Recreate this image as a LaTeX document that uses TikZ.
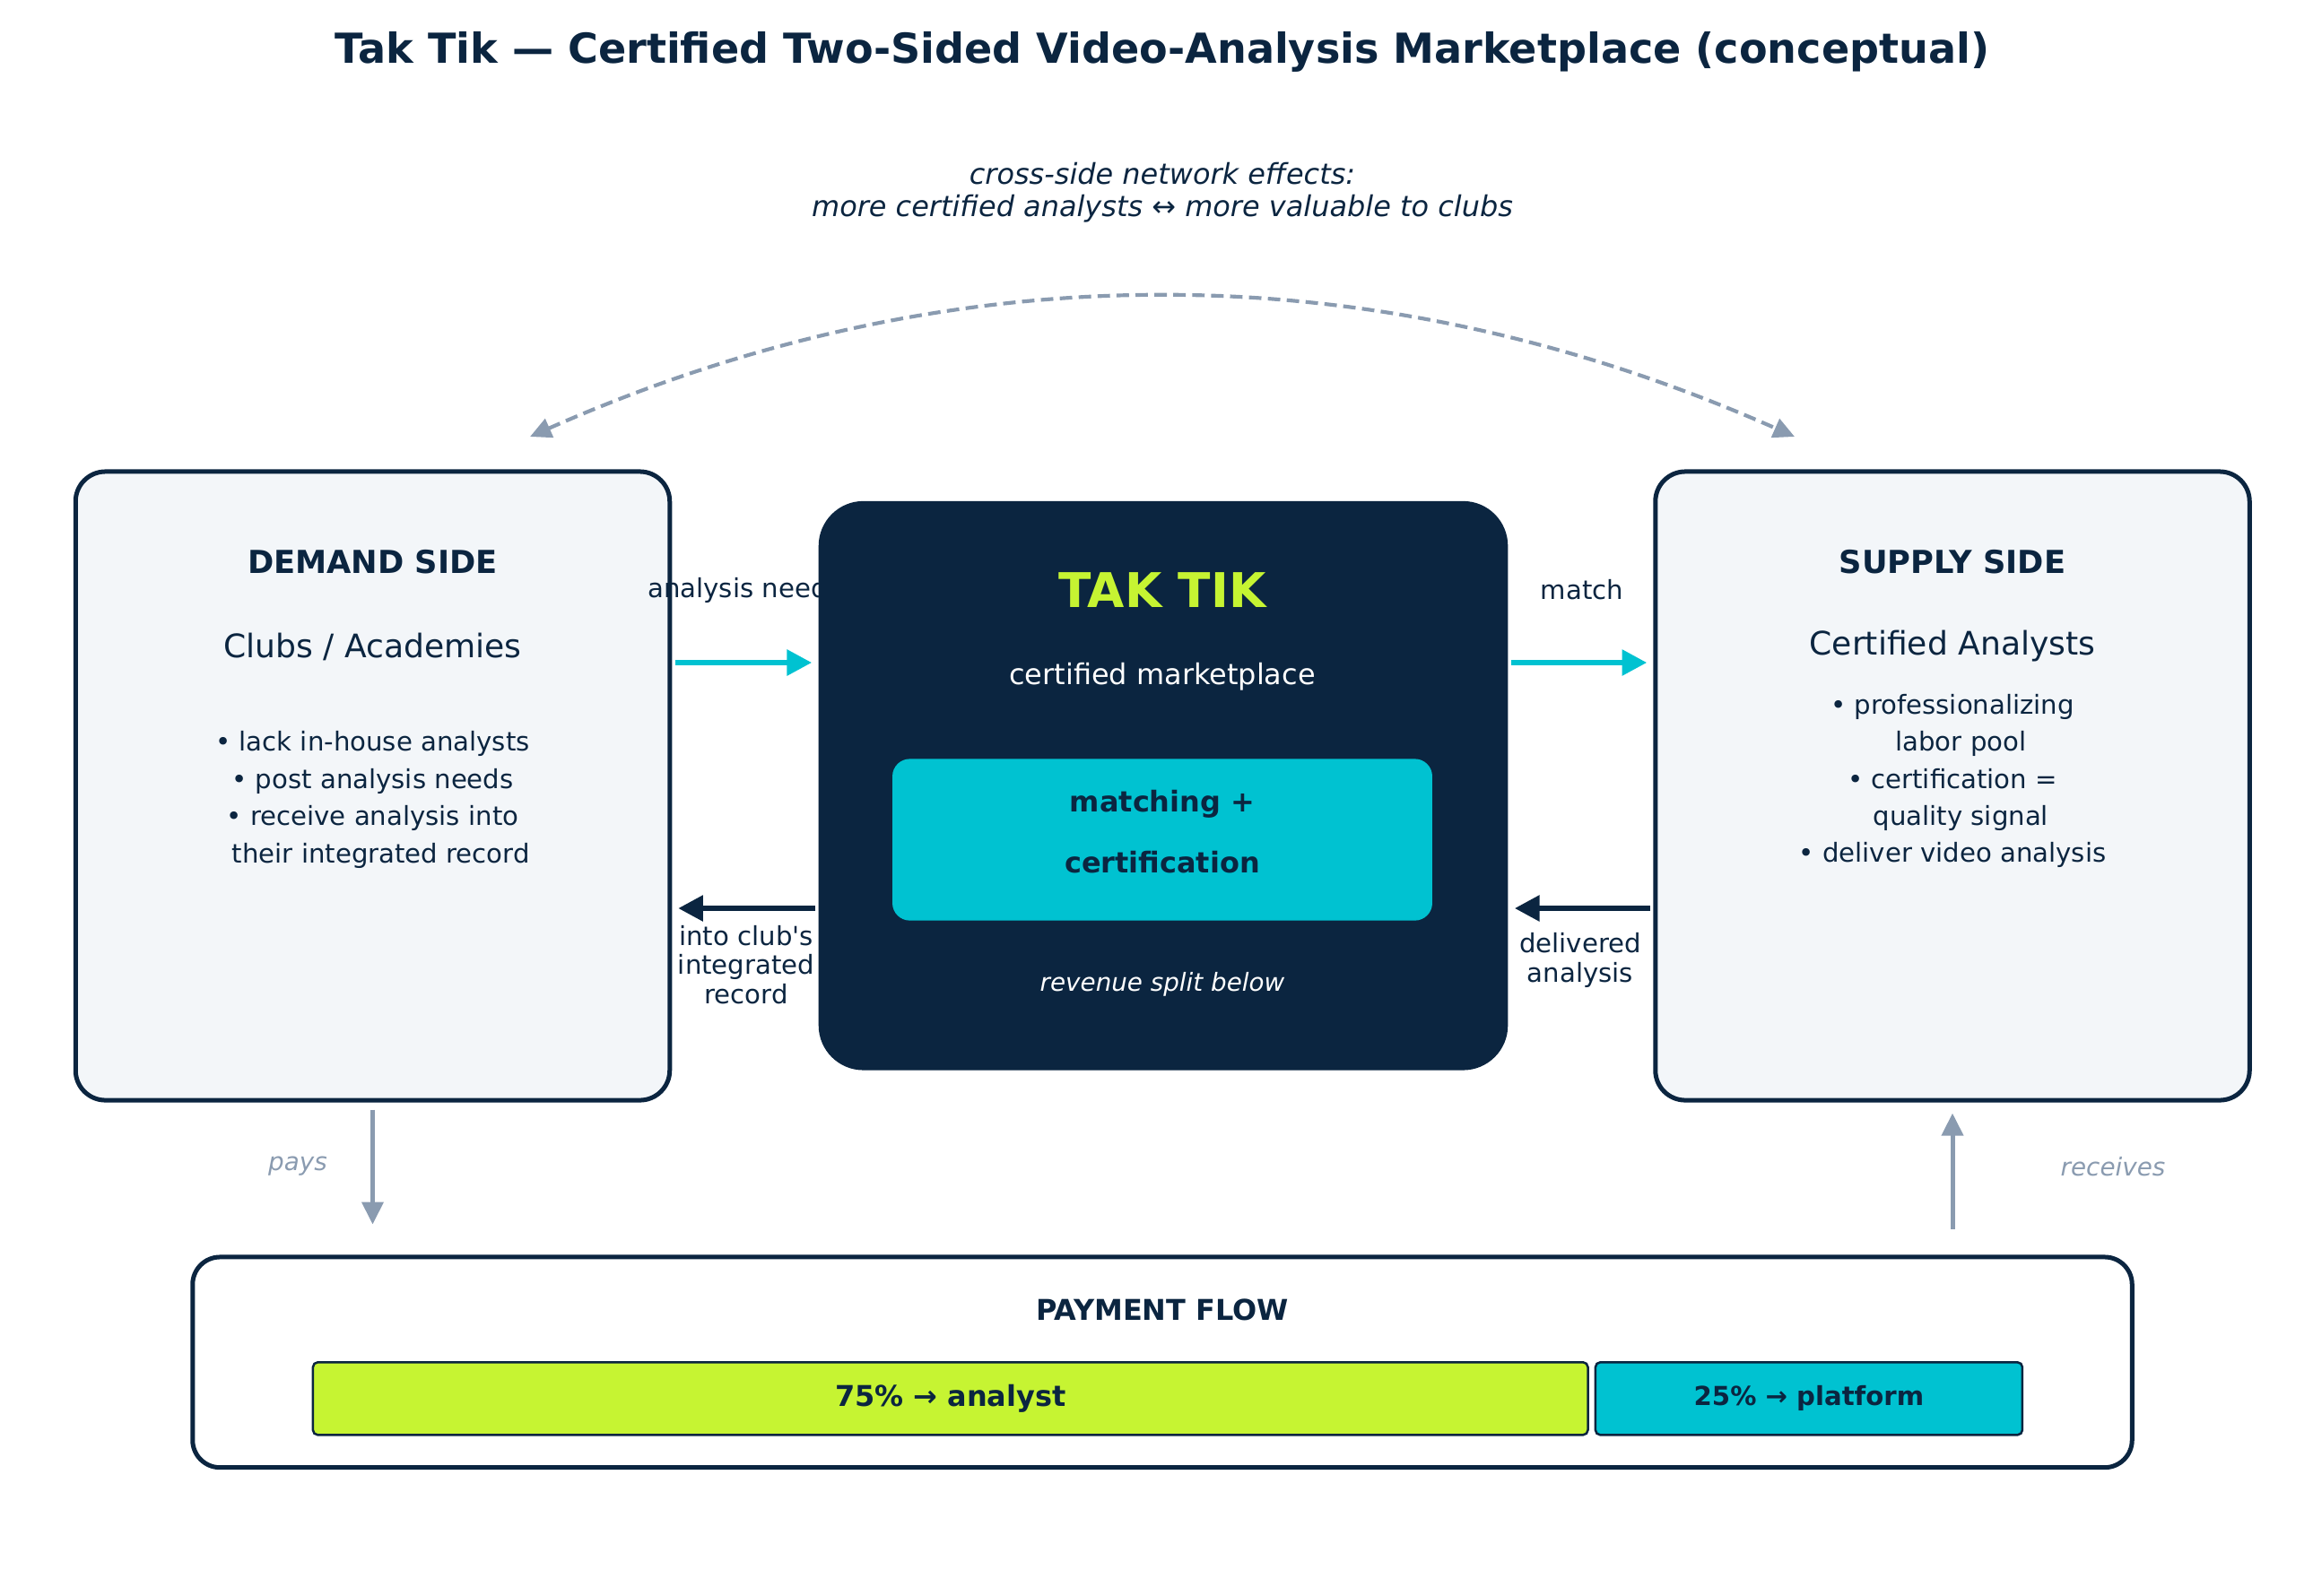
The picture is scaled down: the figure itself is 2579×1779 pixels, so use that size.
\documentclass[tikz,border=0pt]{standalone}
\usepackage{fontspec}
\setmainfont{DejaVu Sans}
\usetikzlibrary{arrows.meta}
\definecolor{tknavy}{HTML}{0B2540}
\definecolor{tklime}{HTML}{C6F432}
\definecolor{tkcyan}{HTML}{00C2D1}
\definecolor{tkgray}{HTML}{8A9BB0}
\definecolor{tkpale}{HTML}{F3F6F9}
\tikzset{
  sidebox/.style={draw=tknavy, line width=1.8pt, fill=tkpale, rounded corners=12pt,
    minimum width=238.5pt, minimum height=252.4pt, inner sep=0pt},
  corebox/.style={fill=tknavy, rounded corners=18pt,
    minimum width=276.7pt, minimum height=228.5pt, inner sep=0pt},
  enginebox/.style={fill=tkcyan, rounded corners=7pt,
    minimum width=216.7pt, minimum height=64.9pt, inner sep=0pt},
  paybox/.style={draw=tknavy, line width=1.8pt, fill=white, rounded corners=11pt,
    minimum width=778.5pt, minimum height=84.5pt, inner sep=0pt},
  sharebar/.style={draw=tknavy, line width=0.9pt, rounded corners=2pt,
    minimum height=29.2pt, inner sep=0pt, text=tknavy},
  titletext/.style={text=tknavy, font=\fontsize{16.6}{20}\selectfont\bfseries},
  effecttext/.style={text=tknavy, align=center, font=\fontsize{11.5}{13}\selectfont\itshape},
  sidehead/.style={text=tknavy, font=\fontsize{12.7}{15.2}\selectfont\bfseries},
  sidesub/.style={text=tknavy, font=\fontsize{13}{15.6}\selectfont},
  sidelist/.style={text=tknavy, align=center, font=\fontsize{10.5}{14.9}\selectfont},
  flowlabel/.style={text=tknavy, align=center, font=\fontsize{10.5}{11.7}\selectfont},
  moneylabel/.style={text=tkgray, font=\fontsize{10}{12}\selectfont\itshape},
  flowarrow/.style={-{Triangle[length=10pt,width=10pt]}, line width=2.3pt,
    shorten <=1.2pt, shorten >=2.5pt},
  moneyarrow/.style={draw=tkgray, -{Triangle[length=9pt,width=8.5pt]}, line width=1.8pt},
  effectarc/.style={draw=tkgray, {Triangle[length=8.5pt,width=8pt]}-{Triangle[length=8.5pt,width=8pt]},
    line width=1.5pt, dash pattern=on 5pt off 2.6pt}
}
\begin{document}
\begin{tikzpicture}[x=0.36pt,y=-0.36pt]
\useasboundingbox (0,0) rectangle (2579,1779);
% heading
\node[titletext] (title) at (1296,58) {Tak Tik — Certified Two-Sided Video-Analysis Marketplace (conceptual)};
\node[effecttext] (effects) at (1296,215) {cross-side network effects:\\more certified analysts ↔ more valuable to clubs};
% the two sides
\node[sidebox] (demand) at (415.5,876.5) {};
\node[sidebox] (supply) at (2177,876.5) {};
\node[sidehead] (demandhead) at (415.5,627) {DEMAND SIDE};
\node[sidesub] (demandsub) at (415.5,721) {Clubs / Academies};
\node[sidelist] (demandlist) at (415.5,892) {• lack in-house analysts\\• post analysis needs\\• receive analysis into\\\hspace*{0.64em}their integrated record};
\node[sidehead] (supplyhead) at (2177,627) {SUPPLY SIDE};
\node[sidesub] (supplysub) at (2177,721) {Certified Analysts};
\node[sidelist] (supplylist) at (2177,871) {• professionalizing\\\hspace*{0.64em}labor pool\\• certification =\\\hspace*{0.64em}quality signal\\• deliver video analysis};
\node[flowlabel] (needslabel) at (830,658) {analysis needs};
\node[flowlabel] (matchlabel) at (1764,658) {match};
% platform
\node[corebox] (core) at (1297,876.2) {};
\node[text=tklime, font=\fontsize{19.2}{23}\selectfont\bfseries] (corename) at (1296,658) {TAK TIK};
\node[text=white, font=\fontsize{11.5}{13.8}\selectfont] (coresub) at (1296,755) {certified marketplace};
\node[enginebox] (engine) at (1296,936.5) {};
\node[text=tknavy, align=center, font=\fontsize{11.5}{24.5}\selectfont\bfseries] (enginetext) at (1296,928) {matching +\\certification};
\node[text=white, font=\fontsize{10}{12}\selectfont\itshape] (corenote) at (1296,1098) {revenue split below};
% flows between sides and platform
\coordinate (upper) at (0,739);
\coordinate (lower) at (0,1013);
\draw[flowarrow, tkcyan] (demand.east |- upper) -- (core.west |- upper);
\draw[flowarrow, tkcyan] (core.east |- upper) -- (supply.west |- upper);
\draw[flowarrow, tknavy] (core.west |- lower) -- (demand.east |- lower);
\draw[flowarrow, tknavy] (supply.west |- lower) -- (core.east |- lower);
\node[flowlabel] (recordlabel) at (832,1076) {into club\textquotesingle s\\integrated\\record};
\node[flowlabel] (deliveredlabel) at (1762,1071) {delivered\\analysis};
% payment
\node[paybox] (payment) at (1296,1519.3) {};
\node[text=tknavy, font=\fontsize{11.5}{13.8}\selectfont\bfseries] (payhead) at (1296,1461) {PAYMENT FLOW};
\node[sharebar, fill=tklime, minimum width=511.8pt, font=\fontsize{11.5}{13.8}\selectfont\bfseries] (analystshare) at (1059.7,1559.8) {75\% → analyst};
\node[sharebar, fill=tkcyan, minimum width=171.4pt, font=\fontsize{10.5}{12.6}\selectfont\bfseries] (platformshare) at (2016.9,1559.8) {25\% → platform};
\draw[moneyarrow, shorten <=2.9pt, shorten >=12.2pt] (demand.south) -- (demand.south |- payment.north);
\node[moneylabel] (payslabel) at (332,1301) {pays};
\draw[moneyarrow, shorten <=10.4pt, shorten >=4.3pt] (supply.south |- payment.north) -- (supply.south);
\node[moneylabel] (receiveslabel) at (2356,1301) {receives};
% network effects
\coordinate (effectleft) at (591,487);
\coordinate (effectright) at (2001,487);
\draw[effectarc] (effectleft) .. controls (1061,279) and (1531,279) .. (effectright);
\end{tikzpicture}
\end{document}
